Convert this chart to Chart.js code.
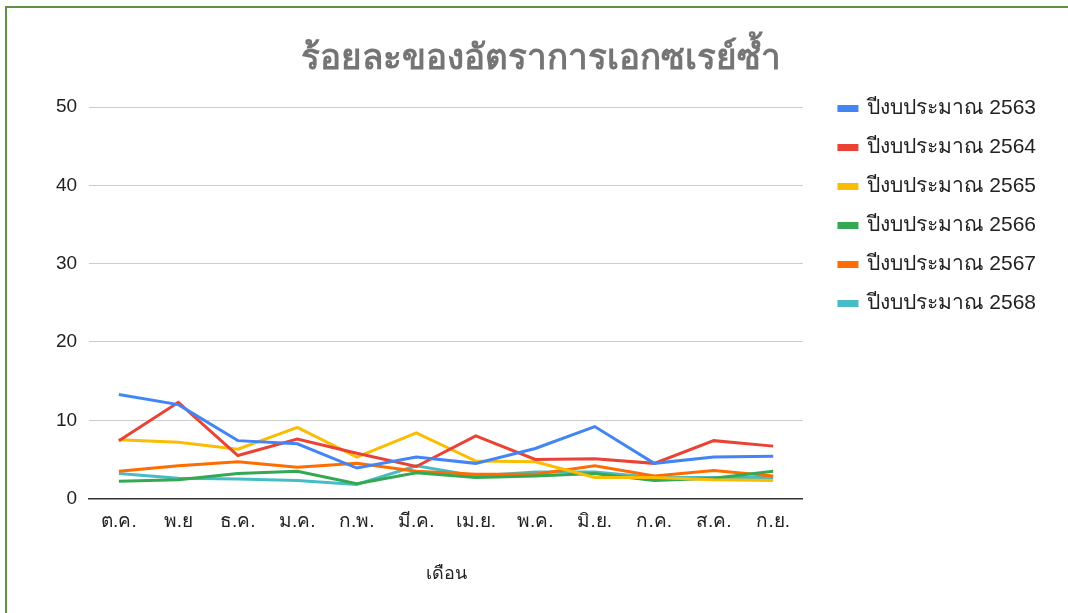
<!DOCTYPE html>
<html>
<head>
<meta charset="utf-8">
<script src="https://cdn.jsdelivr.net/npm/chart.js@4"></script>
<style>
  html, body { margin: 0; padding: 0; background: #fff; }
  #wrap { position: relative; width: 1068px; height: 613px; overflow: hidden; }
  #frame {
    position: absolute; left: 5px; top: 6px; width: 1100px; height: 700px;
    border-left: 2px solid #5f9140; border-top: 2px solid #5f9140;
  }
  canvas { position: absolute; left: 0; top: 0; }
</style>
</head>
<body>
<div id="wrap">
  <div id="frame"></div>
  <canvas id="chart" width="1068" height="613"></canvas>
</div>
<script>
// months (fiscal year order)
const months = ["ต.ค.", "พ.ย", "ธ.ค.", "ม.ค.", "ก.พ.", "มี.ค.", "เม.ย.", "พ.ค.", "มิ.ย.", "ก.ค.", "ส.ค.", "ก.ย."];

// percent repeat x-ray, per fiscal year
const fy2563 = [13.3, 12.0, 7.4, 7.0, 3.9, 5.3, 4.5, 6.4, 9.2, 4.5, 5.3, 5.4];
const fy2564 = [7.4, 12.3, 5.5, 7.6, 5.8, 4.1, 8.0, 5.0, 5.1, 4.5, 7.4, 6.7];
const fy2565 = [7.5, 7.2, 6.3, 9.1, 5.3, 8.4, 4.8, 4.7, 2.7, 2.7, 2.4, 2.3];
const fy2566 = [2.2, 2.4, 3.2, 3.5, 1.9, 3.3, 2.7, 2.9, 3.2, 2.3, 2.6, 3.5];
const fy2567 = [3.5, 4.2, 4.7, 4.0, 4.5, 3.5, 3.1, 3.1, 4.2, 2.9, 3.6, 2.9];
const fy2568 = [3.2, 2.6, 2.5, 2.3, 1.8, 4.2, 2.9, 3.4, 3.4, 2.7, 2.7, 2.7];

const seriesNames = ["ปีงบประมาณ 2563", "ปีงบประมาณ 2564", "ปีงบประมาณ 2565", "ปีงบประมาณ 2566", "ปีงบประมาณ 2567", "ปีงบประมาณ 2568"];
const seriesData = [fy2563, fy2564, fy2565, fy2566, fy2567, fy2568];
const colors = ["#4285F4", "#EA4335", "#FBBC04", "#34A853", "#FF6D01", "#46BDC6"];

const FONT = "Arial, 'Liberation Sans', 'Noto Sans', sans-serif";
const LEGEND_GAP = 20;   // extra room between plot and legend

// widen the legend box on its left side so the plot ends earlier
const legendGap = {
    id: "legendGap",
    beforeLayout(chart) {
        const lg = chart.legend;
        if (lg && !lg._gapPatched) {
            const fit = lg.fit.bind(lg);
            lg.fit = function () { fit(); this.width += LEGEND_GAP; };
            lg._gapPatched = true;
        }
    },
    afterLayout(chart) {
        if (chart.legend) chart.legend.left += LEGEND_GAP - 2;
    }
};

const ctx = document.getElementById("chart").getContext("2d");

new Chart(ctx, {
    type: "line",
    data: {
        labels: months,
        datasets: seriesData.map((d, i) => ({
            label: seriesNames[i],
            data: d,
            borderColor: colors[i],
            backgroundColor: colors[i],
            borderWidth: 3,
            pointRadius: 0,
            tension: 0
        }))
    },
    plugins: [legendGap],
    options: {
        responsive: false,
        animation: false,
        layout: {
            padding: { left: 44, right: 20, top: 0, bottom: 24 }
        },
        plugins: {
            title: {
                display: true,
                text: "ร้อยละของอัตราการเอกซเรย์ซ้ำ\u00a0",
                color: "#757575",
                font: { family: FONT, size: 35, weight: "bold" },
                padding: { top: 38, bottom: 27 }
            },
            legend: {
                position: "right",
                align: "start",
                title: {
                    display: true,
                    text: "",
                    font: { size: 10 },
                    padding: { top: 68, bottom: 0 }
                },
                labels: {
                    color: "#222",
                    font: { family: FONT, size: 21 },
                    boxWidth: 18,
                    boxHeight: 4,
                    padding: 18
                }
            },
            tooltip: { enabled: false }
        },
        scales: {
            x: {
                offset: true,
                grid: { display: false, drawTicks: false },
                border: { display: true, color: "#333", width: 1.5 },
                ticks: {
                    color: "#222",
                    font: { family: FONT, size: 19 },
                    padding: 12,
                    maxRotation: 0,
                    autoSkip: false
                },
                title: {
                    display: true,
                    text: "เดือน",
                    color: "#222",
                    font: { family: FONT, size: 18 },
                    padding: { top: 18 }
                }
            },
            y: {
                min: 0,
                max: 50,
                ticks: {
                    stepSize: 10,
                    color: "#222",
                    font: { family: FONT, size: 19 },
                    padding: 12
                },
                grid: {
                    color: "#cccccc",
                    drawTicks: false
                },
                border: { display: false }
            }
        }
    }
});
</script>
</body>
</html>
